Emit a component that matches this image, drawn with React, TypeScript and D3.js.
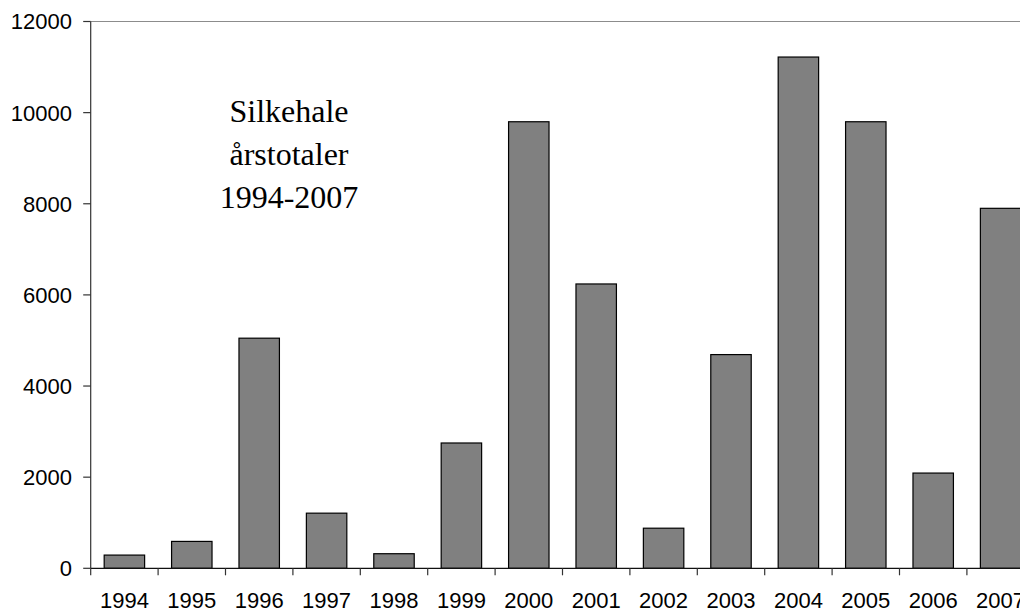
import React from "react";
import * as d3 from "d3";

const years = ["1994","1995","1996","1997","1998","1999","2000","2001","2002","2003","2004","2005","2006","2007"];
const totals = [290, 590, 5050, 1210, 320, 2750, 9800, 6240, 880, 4690, 11220, 9800, 2090, 7900];
const yTicks = [0, 2000, 4000, 6000, 8000, 10000, 12000];
const titleLines = ["Silkehale", "årstotaler", "1994-2007"];

const W = 1020, H = 609;
const left = 90.7, top = 21.5, bottom = 568.3;
const band = 67.4;

export default function App() {
  const x = d3.scaleBand<string>().domain(years).range([left, left + band * years.length]).paddingInner(0.4).paddingOuter(0.2);
  const y = d3.scaleLinear().domain([0, 12000]).range([bottom, top]);
  const step = x.step();
  const boundaries = d3.range(years.length + 1).map((i) => left + i * step);

  return (
    <svg width={W} height={H} style={{ position: "absolute", left: 0, top: 0, background: "#fff" }}>
      <line x1={left} x2={W} y1={y(12000)} y2={y(12000)} stroke="#8c8c8c" strokeWidth={1.2} />
      {years.map((yr, i) => (
        <rect key={yr} x={(x(yr) as number) + 0.0} y={y(totals[i])} width={x.bandwidth()} height={bottom - y(totals[i])}
          fill="#808080" stroke="#000" strokeWidth={1.2} />
      ))}
      <line x1={left} x2={left} y1={top} y2={bottom} stroke="#333" strokeWidth={1.2} />
      <line x1={left} x2={W} y1={bottom} y2={bottom} stroke="#111" strokeWidth={1.2} />
      {yTicks.map((t) => (
        <g key={t}>
          <line x1={left - 7.5} x2={left} y1={y(t)} y2={y(t)} stroke="#333" strokeWidth={1.2} />
          <text x={72} y={y(t)} dy="0.36em" textAnchor="end" fontFamily="Liberation Sans, Arial, sans-serif" fontSize={22} fill="#000">{t}</text>
        </g>
      ))}
      {boundaries.map((b, i) => (
        <line key={i} x1={b} x2={b} y1={bottom} y2={bottom + 7} stroke="#333" strokeWidth={1.2} />
      ))}
      {years.map((yr) => (
        <text key={yr} x={(x(yr) as number) + x.bandwidth() / 2} y={608} textAnchor="middle"
          fontFamily="Liberation Sans, Arial, sans-serif" fontSize={22} fill="#000">{yr}</text>
      ))}
      {titleLines.map((l, i) => (
        <text key={l} x={289} y={122.3 + i * 43} textAnchor="middle" fontFamily="Liberation Serif, 'Times New Roman', serif" fontSize={32} fill="#000">{l}</text>
      ))}
    </svg>
  );
}
